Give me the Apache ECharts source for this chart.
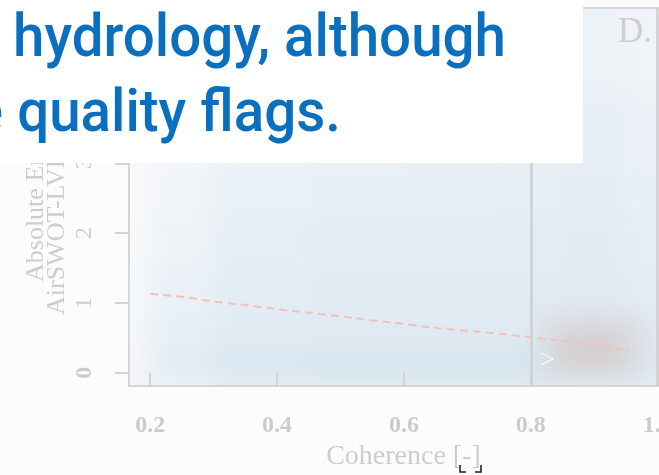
<!DOCTYPE html>
<html>
<head>
<meta charset="utf-8">
<script src="https://cdn.jsdelivr.net/npm/echarts@6/dist/echarts.min.js"></script>
<style>
  html, body { margin: 0; padding: 0; background: #fcfcfc; }
  #wrap { position: relative; width: 659px; height: 475px; overflow: hidden; }
  #bgclip { position: absolute; left: 129px; top: 8px; width: 530px; height: 378px; overflow: hidden; }
  #bgchart { position: absolute; left: -60px; top: -60px; width: 669px; height: 498px; filter: blur(13px); }
  #chart { position: absolute; left: 0; top: 0; width: 659px; height: 475px; }
</style>
</head>
<body>
<div id="wrap">
  <div id="bgclip"><div id="bgchart"></div></div>
  <div id="chart"></div>
</div>
<script>
// ---------- data ----------
const xMin = 0.1666, xMax = 1.032;
const yMin = -0.19, yMax = 5.225;
const xTicks = [0.2, 0.4, 0.6, 0.8, 1.0];
const xTickLabels = ['0.2', '0.4', '0.6', '0.8', '1.0'];
const yTicks = [0, 1, 2, 3, 4, 5];
const yTickLabels = ['0', '1', '2', '3', '4', '5'];

// dashed trend line (coherence, absolute error)
const trendX = [0.20, 0.25, 0.30, 0.35, 0.40, 0.45, 0.50, 0.55, 0.60, 0.65, 0.70, 0.75, 0.80, 0.85, 0.90, 0.955];
const trendY = [1.13, 1.09, 1.02, 0.97, 0.91, 0.86, 0.81, 0.75, 0.70, 0.64, 0.60, 0.56, 0.51, 0.46, 0.40, 0.31];

// vertical reference lines
const vLines = [0.8, 1.0];

// point density (relative, 0..1) on a coarse grid
const xEdges = [0.10, 0.20, 0.30, 0.45, 0.60, 0.75, 0.85, 0.95, 1.10];
const yEdges = [-0.6, 0, 0.3, 0.75, 1.5, 2.25, 3, 4, 6];
const density = [
  [0.10, 0.35, 0.50, 0.55, 0.55, 0.55, 0.55, 0.45],
  [0.15, 0.60, 0.85, 0.90, 0.90, 0.90, 0.85, 0.70],
  [0.10, 0.45, 0.60, 0.62, 0.62, 0.62, 0.66, 0.60],
  [0.08, 0.38, 0.55, 0.58, 0.58, 0.58, 0.62, 0.52],
  [0.05, 0.28, 0.47, 0.52, 0.52, 0.54, 0.56, 0.46],
  [0.03, 0.18, 0.38, 0.42, 0.44, 0.48, 0.50, 0.40],
  [0.00, 0.10, 0.25, 0.30, 0.35, 0.42, 0.42, 0.33],
  [0.00, 0.05, 0.12, 0.15, 0.20, 0.30, 0.30, 0.22]
];
// high-coherence cluster (x0, x1, y0, y1, weight)
const cluster = [
  [0.81, 0.98, -0.12, 0.85, 0.5],
  [0.85, 0.94, 0.08, 0.60, 1.0]
];
// chevron marker
const chevron = [[0.826, 0.18]];

// ---------- density layer ----------
const cells = [];
for (let r = 0; r < density.length; r++) {
  for (let c = 0; c < density[r].length; c++) {
    cells.push([xEdges[c], xEdges[c + 1], yEdges[r], yEdges[r + 1], density[r][c]]);
  }
}
function renderCell(params, api) {
  const p0 = api.coord([api.value(0), api.value(3)]);
  const p1 = api.coord([api.value(1), api.value(2)]);
  return {
    type: 'rect',
    shape: { x: p0[0], y: p0[1], width: p1[0] - p0[0] + 1, height: p1[1] - p0[1] + 1 },
    style: { fill: api.visual('color') }
  };
}
const bg = echarts.init(document.getElementById('bgchart'), null, { renderer: 'canvas' });
bg.setOption({
  animation: false,
  backgroundColor: 'transparent',
  grid: { left: 60, top: 60, width: 549, height: 378, outerBoundsMode: 'none' },
  xAxis: { type: 'value', min: xMin, max: xMax, show: false },
  yAxis: { type: 'value', min: yMin, max: yMax, show: false },
  visualMap: [
    { type: 'continuous', show: false, seriesIndex: 0, dimension: 4, min: 0, max: 1,
      inRange: { color: ['#f9fafb', '#d0e0ed'] } },
    { type: 'continuous', show: false, seriesIndex: 1, dimension: 4, min: 0, max: 1,
      inRange: { color: ['rgba(212,206,208,0)', 'rgba(212,204,204,0.9)'] } }
  ],
  series: [
    { type: 'custom', renderItem: renderCell, data: cells, clip: false, silent: true },
    { type: 'custom', renderItem: renderCell, data: cluster, clip: false, silent: true }
  ]
});

// ---------- overlay text measuring ----------
const line1 = 'hydrology, although';
const line2 = 'e quality flags.';
const ofont = '500 60px Roboto, "Noto Sans", sans-serif';
const mctx = document.createElement('canvas').getContext('2d');
mctx.font = ofont;
const sx = 493 / mctx.measureText(line1).width;

// ---------- main chart ----------
const chart = echarts.init(document.getElementById('chart'), null, { renderer: 'canvas' });
const grey = '#cbcbcb';
chart.setOption({
  animation: false,
  backgroundColor: 'transparent',
  grid: { left: 129, top: 8, width: 549, height: 378, show: true, outerBoundsMode: 'none',
          borderColor: '#d6d6d6', borderWidth: 2, backgroundColor: 'transparent' },
  xAxis: {
    type: 'value', min: xMin, max: xMax,
    axisLine: { show: false }, splitLine: { show: false },
    axisTick: { show: true, length: 14, customValues: xTicks, lineStyle: { color: '#d3d3d3', width: 2 } },
    axisLabel: {
      customValues: xTicks, margin: 28, hideOverlap: false,
      formatter: v => xTickLabels[xTicks.findIndex(t => Math.abs(t - v) < 1e-6)] || '',
      fontFamily: 'Liberation Serif', fontWeight: 'bold', fontSize: 24, color: grey
    },
    name: 'Coherence [-]', nameLocation: 'middle', nameGap: 57,
    nameTextStyle: { fontFamily: 'Liberation Serif', fontSize: 28, color: '#cdcdcd' }
  },
  yAxis: {
    type: 'value', min: yMin, max: yMax,
    axisLine: { show: false }, splitLine: { show: false },
    axisTick: { show: true, length: 14, customValues: yTicks, lineStyle: { color: '#d3d3d3', width: 2 } },
    axisLabel: {
      customValues: yTicks, margin: 32, rotate: 90,
      formatter: v => {
        const i = yTicks.findIndex(t => Math.abs(t - v) < 1e-6);
        return i === 0 ? '{b|' + yTickLabels[i] + '}' : (yTickLabels[i] || '');
      },
      rich: { b: { fontFamily: 'Liberation Serif', fontWeight: 'bold', fontSize: 24, color: grey } },
      fontFamily: 'Liberation Serif', fontSize: 24, color: grey
    }
  },
  series: [
    {
      type: 'line', data: trendX.map((x, i) => [x, trendY[i]]),
      symbol: 'none', silent: true,
      lineStyle: { color: '#f4c0b8', width: 2, type: [8, 5] },
      markLine: {
        symbol: 'none', silent: true, label: { show: false },
        lineStyle: { color: '#cfcfcf', width: 2.5, type: 'solid' },
        data: vLines.map(v => ({ xAxis: v }))
      }
    },
    {
      type: 'scatter', data: chevron, symbolSize: 1, silent: true,
      itemStyle: { color: 'rgba(255,255,255,0)' },
      label: { show: true, position: 'inside', formatter: '>', fontFamily: 'Liberation Serif',
               fontSize: 28, color: '#ffffff' }
    }
  ],
  graphic: [
    { type: 'text', x: 36, y: 282, rotation: Math.PI / 2, z: 10,
      style: { text: 'Absolute Error [m]', font: '26px "Liberation Serif"', fill: '#cdcdcd', align: 'left', verticalAlign: 'middle' } },
    { type: 'text', x: 57, y: 315, rotation: Math.PI / 2, z: 10,
      style: { text: 'AirSWOT-LVIS WSE', font: '26px "Liberation Serif"', fill: '#cdcdcd', align: 'left', verticalAlign: 'middle' } },
    { type: 'text', x: 618, y: 50, z: 10,
      style: { text: 'D.', font: '35px "Liberation Serif"', fill: '#cecece', align: 'left', verticalAlign: 'bottom' } },
    { type: 'rect', z: 50, shape: { x: 0, y: 0, width: 583, height: 163 }, style: { fill: '#ffffff' } },
    { type: 'text', x: 13, y: 71, scaleX: sx, z: 51,
      style: { text: line1, font: ofont, fill: '#0a6fbf', align: 'left', verticalAlign: 'bottom' } },
    { type: 'text', x: 341, y: 146, scaleX: sx, z: 51,
      style: { text: line2, font: ofont, fill: '#0a6fbf', align: 'right', verticalAlign: 'bottom' } },
    { type: 'polyline', z: 52, shape: { points: [[460, 465], [460, 472], [466, 472]] },
      style: { stroke: '#222', lineWidth: 1.6, fill: null } },
    { type: 'polyline', z: 52, shape: { points: [[475, 472], [481, 472], [481, 465]] },
      style: { stroke: '#222', lineWidth: 1.6, fill: null } }
  ]
});
</script>
</body>
</html>
